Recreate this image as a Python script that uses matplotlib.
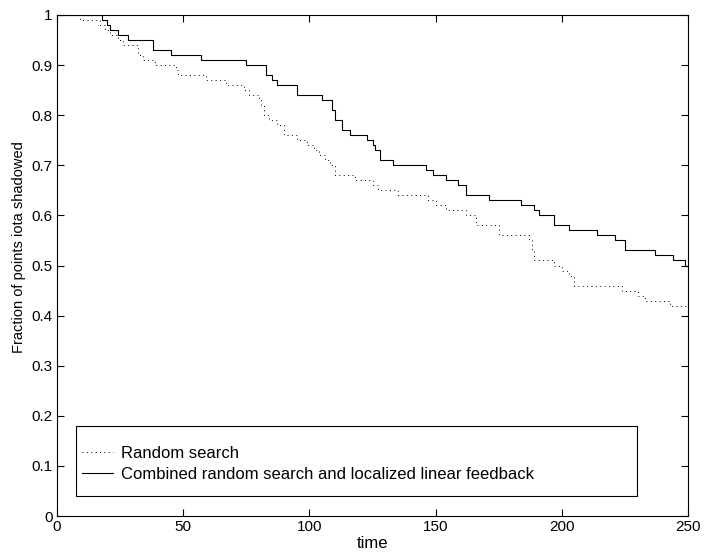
"""Fraction of points shadowed over time: random search vs combined method."""
import matplotlib

matplotlib.use("Agg")
import matplotlib.pyplot as plt  # noqa: E402
import numpy as np  # noqa: E402
from matplotlib.patches import Rectangle  # noqa: E402

# step change points (time, value after the change)
random_t = [0, 9, 17, 19, 21, 24, 26, 32, 34, 39, 47, 48, 59, 67, 74, 76,
            80, 81, 82, 84, 87, 90, 95, 99, 102, 104, 106, 108, 110, 118,
            125, 127, 135, 147, 150, 154, 162, 166, 175, 187, 188, 189, 197,
            200, 203, 205, 224, 230, 233, 243, 250]
random_v = [1.00, 0.99, 0.98, 0.97, 0.96, 0.95, 0.94, 0.92, 0.91, 0.90, 0.89,
            0.88, 0.87, 0.86, 0.85, 0.84, 0.83, 0.82, 0.80, 0.79, 0.78, 0.76,
            0.75, 0.74, 0.73, 0.72, 0.71, 0.70, 0.68, 0.67, 0.66, 0.65, 0.64,
            0.63, 0.62, 0.61, 0.60, 0.58, 0.56, 0.55, 0.53, 0.51, 0.50, 0.49,
            0.48, 0.46, 0.45, 0.44, 0.43, 0.42, 0.42]

combined_t = [0, 18, 20, 21, 24, 28, 38, 45, 57, 75, 83, 85, 87, 95, 105,
              109, 110, 113, 116, 123, 125, 126, 128, 133, 146, 149, 154, 159,
              162, 171, 184, 189, 191, 197, 203, 214, 221, 225, 237, 244, 249,
              250]
combined_v = [1.00, 0.99, 0.98, 0.97, 0.96, 0.95, 0.93, 0.92, 0.91, 0.90,
              0.88, 0.87, 0.86, 0.84, 0.83, 0.81, 0.79, 0.77, 0.76, 0.75, 0.74,
              0.73, 0.71, 0.70, 0.69, 0.68, 0.67, 0.66, 0.64, 0.63, 0.62, 0.61,
              0.60, 0.58, 0.57, 0.56, 0.55, 0.53, 0.52, 0.51, 0.50, 0.50]

labels = ["Random search",
          "Combined random search and localized linear feedback"]

plt.rcParams["font.family"] = ["Liberation Sans", "DejaVu Sans"]

fig = plt.figure(figsize=(7.04, 5.54), dpi=100)
ax = fig.add_axes([57 / 704, 38 / 554, 631 / 704, 501 / 554])

ax.plot(random_t, random_v, drawstyle="steps-post", color="black",
        linestyle=(0, (1, 3.5)), linewidth=0.7, label=labels[0])
ax.plot(combined_t, combined_v, drawstyle="steps-post", color="black",
        linestyle="-", linewidth=0.8, label=labels[1])

ax.set_xlim(0, 250)
ax.set_ylim(0, 1)
ax.set_xticks(np.arange(0, 251, 50))
ax.set_yticks(np.round(np.arange(0, 1.01, 0.1), 1))
ax.set_yticklabels(["0"] + [f"{v:.1f}" for v in np.arange(0.1, 0.95, 0.1)] + ["1"])
ax.tick_params(direction="in", top=True, right=True, length=5, width=0.8,
               labelsize=11, pad=3)
for s in ax.spines.values():
    s.set_linewidth(0.8)

ax.set_xlabel("time", fontsize=12, va="top")
ax.xaxis.set_label_coords(0.5, -0.040)
ax.set_ylabel("Fraction of points iota shadowed", fontsize=10.5)
ax.yaxis.set_label_coords(-0.049, 0.537)

# legend box drawn separately so the padding can match the original
ax.add_patch(Rectangle((0.0301, 0.0399), 0.889, 0.1397, transform=ax.transAxes,
                       facecolor="white", edgecolor="black", linewidth=0.8,
                       zorder=4))
leg = ax.legend(loc="upper left", bbox_to_anchor=(0.0396, 0.140), frameon=False,
                fontsize=12, borderpad=0, labelspacing=0.35, handlelength=1.85,
                handletextpad=0.5, borderaxespad=0)
leg.set_zorder(5)

fig.savefig("out.png", dpi=100)
